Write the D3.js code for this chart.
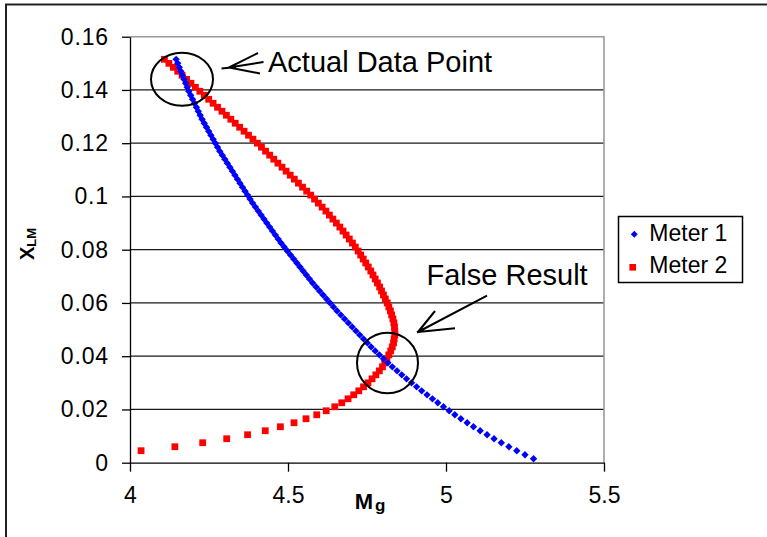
<!DOCTYPE html>
<html>
<head>
<meta charset="utf-8">
<script src="https://cdn.jsdelivr.net/npm/d3@7"></script>
<style>
  html, body { margin: 0; padding: 0; background: #fff; }
  svg { display: block; }
  text { font-family: "Liberation Sans", Arial, sans-serif; }
</style>
</head>
<body>
<svg id="chart" width="767" height="537"></svg>
<script>
// ---- data ----
const xlmValues = [
  0.0015, 0.003, 0.0045, 0.006, 0.0075, 0.009, 0.0105, 0.012, 0.0135, 0.015,
  0.0165, 0.018, 0.0195, 0.021, 0.0225, 0.024, 0.0255, 0.027, 0.0285, 0.03,
  0.0315, 0.033, 0.0345, 0.036, 0.0375, 0.039, 0.0405, 0.042, 0.0435, 0.045,
  0.0465, 0.048, 0.0495, 0.051, 0.0525, 0.054, 0.0555, 0.057, 0.0585, 0.06,
  0.0615, 0.063, 0.0645, 0.066, 0.0675, 0.069, 0.0705, 0.072, 0.0735, 0.075,
  0.0765, 0.078, 0.0795, 0.081, 0.0825, 0.084, 0.0855, 0.087, 0.0885, 0.09,
  0.0915, 0.093, 0.0945, 0.096, 0.0975, 0.099, 0.1005, 0.102, 0.1035, 0.105,
  0.1065, 0.108, 0.1095, 0.111, 0.1125, 0.114, 0.1155, 0.117, 0.1185, 0.12,
  0.1215, 0.123, 0.1245, 0.126, 0.1275, 0.129, 0.1305, 0.132, 0.1335, 0.135,
  0.1365, 0.138, 0.1395, 0.141, 0.1425, 0.144, 0.1455, 0.147, 0.1485, 0.15,
  0.1515
];
const meter1Mg = [
  5.277, 5.250, 5.224, 5.199, 5.175, 5.152, 5.130, 5.108, 5.087, 5.067,
  5.047, 5.028, 5.010, 4.992, 4.974, 4.957, 4.940, 4.923, 4.907, 4.891,
  4.875, 4.860, 4.845, 4.830, 4.816, 4.802, 4.789, 4.776, 4.763, 4.751,
  4.739, 4.727, 4.715, 4.703, 4.691, 4.679, 4.667, 4.655, 4.644, 4.633,
  4.622, 4.611, 4.600, 4.589, 4.578, 4.568, 4.558, 4.548, 4.538, 4.528,
  4.518, 4.508, 4.498, 4.488, 4.478, 4.469, 4.460, 4.451, 4.442, 4.433,
  4.424, 4.415, 4.406, 4.397, 4.388, 4.380, 4.372, 4.364, 4.356, 4.348,
  4.340, 4.332, 4.324, 4.316, 4.308, 4.300, 4.292, 4.284, 4.277, 4.270,
  4.263, 4.256, 4.249, 4.242, 4.235, 4.228, 4.222, 4.216, 4.210, 4.204,
  4.198, 4.192, 4.186, 4.181, 4.176, 4.171, 4.166, 4.161, 4.156, 4.151,
  4.146
];
// first two values lie left of the axis minimum (not shown)
const meter2Mg = [
  null, null, 4.035, 4.142, 4.230, 4.306, 4.372, 4.428, 4.476, 4.519,
  4.557, 4.591, 4.621, 4.648, 4.670, 4.690, 4.708, 4.724, 4.739, 4.753,
  4.766, 4.778, 4.789, 4.799, 4.806, 4.813, 4.819, 4.825, 4.830, 4.834,
  4.836, 4.838, 4.838, 4.837, 4.835, 4.832, 4.828, 4.824, 4.819, 4.814,
  4.808, 4.802, 4.796, 4.790, 4.783, 4.776, 4.769, 4.762, 4.754, 4.746,
  4.738, 4.730, 4.722, 4.713, 4.704, 4.694, 4.684, 4.674, 4.664, 4.653,
  4.642, 4.631, 4.620, 4.608, 4.596, 4.584, 4.572, 4.559, 4.546, 4.533,
  4.520, 4.507, 4.494, 4.481, 4.468, 4.455, 4.442, 4.429, 4.416, 4.403,
  4.389, 4.375, 4.361, 4.347, 4.333, 4.319, 4.305, 4.291, 4.277, 4.263,
  4.249, 4.235, 4.221, 4.207, 4.193, 4.179, 4.165, 4.151, 4.137, 4.123,
  4.109
];
const seriesNames = ["Meter 1", "Meter 2"];
const seriesColors = ["#0000FF", "#FF0000"];
const xTicks = [4, 4.5, 5, 5.5];
const xTickLabels = ["4", "4.5", "5", "5.5"];
const yTicks = [0, 0.02, 0.04, 0.06, 0.08, 0.1, 0.12, 0.14, 0.16];
const yTickLabels = ["0", "0.02", "0.04", "0.06", "0.08", "0.1", "0.12", "0.14", "0.16"];
const annotations = ["Actual Data Point", "False Result"];

// ---- layout ----
const svg = d3.select("#chart");
const plot = { left: 130, right: 604, top: 36.7, bottom: 462.7 };
const x = d3.scaleLinear().domain([4, 5.5]).range([plot.left, plot.right]);
const y = d3.scaleLinear().domain([0, 0.16]).range([plot.bottom, plot.top]);

// outer frame (left and top edges visible)
svg.append("path")
  .attr("d", "M6,537 V4.5 H767")
  .attr("fill", "none").attr("stroke", "#222").attr("stroke-width", 2);

// gridlines
svg.append("g").selectAll("line")
  .data(yTicks.filter(v => v > 0 && v < 0.16))
  .join("line")
  .attr("x1", plot.left).attr("x2", plot.right)
  .attr("y1", d => y(d)).attr("y2", d => y(d))
  .attr("stroke", "#1a1a1a").attr("stroke-width", 1.2);

// plot border top + right (grey)
svg.append("path")
  .attr("d", `M${plot.left},${plot.top} H${plot.right} V${plot.bottom}`)
  .attr("fill", "none").attr("stroke", "#9a9a9a").attr("stroke-width", 1.6);

// axes
const yAxis = d3.axisLeft(y).tickValues(yTicks)
  .tickFormat((d, i) => yTickLabels[i]).tickSize(8).tickSizeOuter(0).tickPadding(14);
const xAxis = d3.axisBottom(x).tickValues(xTicks)
  .tickFormat((d, i) => xTickLabels[i]).tickSize(9).tickSizeOuter(0).tickPadding(15);

const gy = svg.append("g").attr("transform", `translate(${plot.left},0)`).call(yAxis);
const gx = svg.append("g").attr("transform", `translate(0,${plot.bottom})`).call(xAxis);
[gx, gy].forEach(g => {
  g.select(".domain").attr("stroke", "#000").attr("stroke-width", 1.3);
  g.selectAll(".tick line").attr("stroke", "#000").attr("stroke-width", 1.3);
  g.selectAll(".tick text").attr("fill", "#000")
    .style("font-family", "'Liberation Sans', Arial, sans-serif").style("font-size", "23px");
});
gy.selectAll(".tick text").style("letter-spacing", "0.8px").attr("dx", "0.8");

// axis titles
const yTitle = svg.append("text")
  .attr("transform", "translate(34,244) rotate(-90)")
  .attr("text-anchor", "middle").attr("font-weight", "bold").attr("fill", "#000");
yTitle.append("tspan").attr("font-size", "20px").text("X");
yTitle.append("tspan").attr("font-size", "13px").attr("dy", "2").text("LM");

const xTitle = svg.append("text")
  .attr("x", 370).attr("y", 508.5)
  .attr("text-anchor", "middle").attr("font-weight", "bold").attr("fill", "#000");
xTitle.append("tspan").attr("font-size", "22px").text("M");
xTitle.append("tspan").attr("font-size", "17px").attr("dy", "2").attr("dx", "2").text("g");

// series
const pts1 = xlmValues.map((v, i) => ({ m: meter1Mg[i], x: v })).filter(d => d.m != null);
const pts2 = xlmValues.map((v, i) => ({ m: meter2Mg[i], x: v })).filter(d => d.m != null && d.m >= 4);

const sq = d3.symbol().type(d3.symbolSquare);
svg.append("g").selectAll("path")
  .data(pts2).join("path")
  .attr("d", sq.size(46)())
  .attr("transform", d => `translate(${x(d.m)},${y(d.x)})`)
  .attr("fill", seriesColors[1]);

svg.append("g").selectAll("path")
  .data(pts1).join("path")
  .attr("d", sq.size(27)())
  .attr("transform", d => `translate(${x(d.m)},${y(d.x)}) rotate(45)`)
  .attr("fill", seriesColors[0]);

// annotations: circles + arrows + text
const ann = svg.append("g").attr("fill", "none").attr("stroke", "#000").attr("stroke-width", 2);
ann.append("ellipse").attr("cx", 182).attr("cy", 79.3).attr("rx", 31).attr("ry", 26.5);
ann.append("ellipse").attr("cx", 387.5).attr("cy", 363).attr("rx", 30.5).attr("ry", 30.3);
ann.append("path").attr("d", "M221.5,68.5 L236,67 M229,67.5 L258,53 M229,67.5 L263.5,62 M229,67.5 L260,73.5");
ann.append("path").attr("d", "M417,332.5 L487,295.7 M418,332 L435,311 M418,332 L455,328.3");

svg.append("text").attr("x", 268).attr("y", 72)
  .attr("font-size", "29px").attr("fill", "#000").text(annotations[0]);
svg.append("text").attr("x", 426.5).attr("y", 285)
  .attr("font-size", "29px").attr("fill", "#000").text(annotations[1]);

// legend
const lg = svg.append("g");
lg.append("rect").attr("x", 618.5).attr("y", 216.5).attr("width", 124).attr("height", 66)
  .attr("fill", "#fff").attr("stroke", "#000").attr("stroke-width", 1.5);
const legendRows = [
  { name: seriesNames[0], color: seriesColors[0], mx: 634.3, my: 234.3, ty: 240.7, diamond: true },
  { name: seriesNames[1], color: seriesColors[1], mx: 632.7, my: 267.3, ty: 273.3, diamond: false }
];
legendRows.forEach(r => {
  lg.append("path")
    .attr("d", sq.size(r.diamond ? 24 : 44)())
    .attr("transform", `translate(${r.mx},${r.my})${r.diamond ? " rotate(45)" : ""}`)
    .attr("fill", r.color);
  lg.append("text").attr("x", 649.3).attr("y", r.ty).attr("font-size", "23px")
    .attr("fill", "#000").text(r.name);
});
</script>
</body>
</html>
